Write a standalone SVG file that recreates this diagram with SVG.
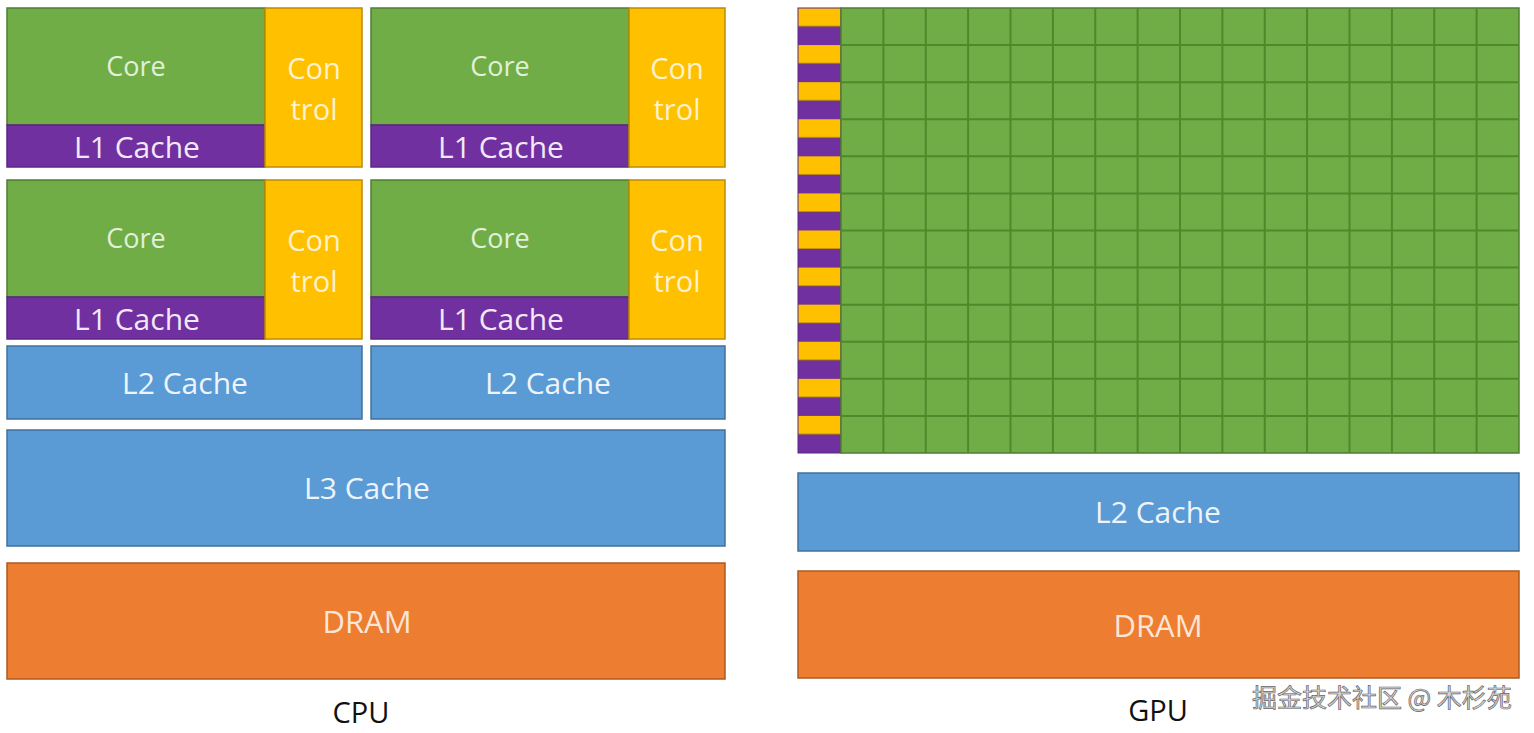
<svg xmlns="http://www.w3.org/2000/svg" width="1534" height="733" viewBox="0 0 1534 733">
<style>
.g{fill:#70AD47;stroke:#507E32;stroke-width:1.5}
.p{fill:#7030A0;stroke:#5A2683;stroke-width:1.5}
.y{fill:#FFC000;stroke:#BC8C00;stroke-width:1.5}
.b{fill:#5B9BD5;stroke:#41719C;stroke-width:1.5}
.o{fill:#ED7D31;stroke:#AE5A21;stroke-width:1.5}
text{font-family:"Open Sans","Liberation Sans",sans-serif;text-anchor:middle}
.tc{font-size:27px;fill:#E2F0D9}
.tl{font-size:30px;fill:#F3E8FA}
.ty{font-size:29px;fill:#FFF2CC}
.tb{font-size:30px;fill:#EEF4FB}
.to{font-size:31px;fill:#FBE5D6}
.lab{font-size:29px;fill:#111}
.wm{font-family:"Noto Sans CJK SC",sans-serif;font-size:25px;fill:#d8d8d8;stroke:#666;stroke-width:0.7;text-anchor:start}
</style>
<defs>
<pattern id="stripe" patternUnits="userSpaceOnUse" x="798" y="8" width="43" height="37.083">
<rect x="0" y="0" width="43" height="18.54" fill="#FFC000"/>
<rect x="0" y="18.54" width="43" height="18.543" fill="#7030A0"/>
<line x1="0" y1="18.54" x2="43" y2="18.54" stroke="#6B4A30" stroke-width="0.8"/>
</pattern>
</defs>
<g id="cpu-core-1">
<rect class="g" x="7" y="8" width="258" height="117"/>
<rect class="p" x="7" y="125" width="258" height="42"/>
<rect class="y" x="265" y="8" width="97" height="159"/>
<text class="tc" x="136" y="76">Core</text>
<text class="tl" x="137" y="158">L1 Cache</text>
<text class="ty" x="314" y="79">Con</text>
<text class="ty" x="314" y="120">trol</text>
</g>
<g id="cpu-core-2">
<rect class="g" x="371" y="8" width="258" height="117"/>
<rect class="p" x="371" y="125" width="258" height="42"/>
<rect class="y" x="629" y="8" width="96" height="159"/>
<text class="tc" x="500" y="76">Core</text>
<text class="tl" x="501" y="158">L1 Cache</text>
<text class="ty" x="677" y="79">Con</text>
<text class="ty" x="677" y="120">trol</text>
</g>
<g id="cpu-core-3">
<rect class="g" x="7" y="180" width="258" height="117"/>
<rect class="p" x="7" y="297" width="258" height="42"/>
<rect class="y" x="265" y="180" width="97" height="159"/>
<text class="tc" x="136" y="248">Core</text>
<text class="tl" x="137" y="330">L1 Cache</text>
<text class="ty" x="314" y="251">Con</text>
<text class="ty" x="314" y="292">trol</text>
</g>
<g id="cpu-core-4">
<rect class="g" x="371" y="180" width="258" height="117"/>
<rect class="p" x="371" y="297" width="258" height="42"/>
<rect class="y" x="629" y="180" width="96" height="159"/>
<text class="tc" x="500" y="248">Core</text>
<text class="tl" x="501" y="330">L1 Cache</text>
<text class="ty" x="677" y="251">Con</text>
<text class="ty" x="677" y="292">trol</text>
</g>
<g id="cpu-l2-left">
<rect class="b" x="7" y="346" width="355" height="73"/>
<text class="tb" x="185" y="394">L2 Cache</text>
</g>
<g id="cpu-l2-right">
<rect class="b" x="371" y="346" width="354" height="73"/>
<text class="tb" x="548" y="394">L2 Cache</text>
</g>
<g id="cpu-l3">
<rect class="b" x="7" y="430" width="718" height="116"/>
<text class="tb" x="367" y="499">L3 Cache</text>
</g>
<g id="cpu-dram">
<rect class="o" x="7" y="563" width="718" height="116"/>
<text class="to" x="367" y="633">DRAM</text>
</g>
<g id="cpu-label">
<text class="lab" x="361" y="723">CPU</text>
</g>
<g id="gpu-cores">
<rect x="798" y="8" width="43" height="445" fill="url(#stripe)" stroke="#5A2683" stroke-width="1"/>
<rect class="g" x="841" y="8" width="678" height="445"/>
<path d="M841 45.08H1519M841 82.17H1519M841 119.25H1519M841 156.33H1519M841 193.42H1519M841 230.5H1519M841 267.58H1519M841 304.67H1519M841 341.75H1519M841 378.83H1519M841 415.92H1519M883.4 8V453M925.75 8V453M968.1 8V453M1010.5 8V453M1052.9 8V453M1095.25 8V453M1137.6 8V453M1180 8V453M1222.4 8V453M1264.75 8V453M1307.1 8V453M1349.5 8V453M1391.9 8V453M1434.25 8V453M1476.6 8V453" stroke="#4E8A2A" stroke-width="2" fill="none"/>
</g>
<g id="gpu-l2">
<rect class="b" x="798" y="473" width="721" height="78"/>
<text class="tb" x="1158" y="523">L2 Cache</text>
</g>
<g id="gpu-dram">
<rect class="o" x="798" y="571" width="721" height="107"/>
<text class="to" x="1158" y="637">DRAM</text>
</g>
<g id="gpu-label">
<text class="lab" x="1158" y="721">GPU</text>
</g>
<g id="watermark">
<text class="wm" x="1252" y="707">掘金技术社区 @ 木杉苑</text>
</g>
</svg>
